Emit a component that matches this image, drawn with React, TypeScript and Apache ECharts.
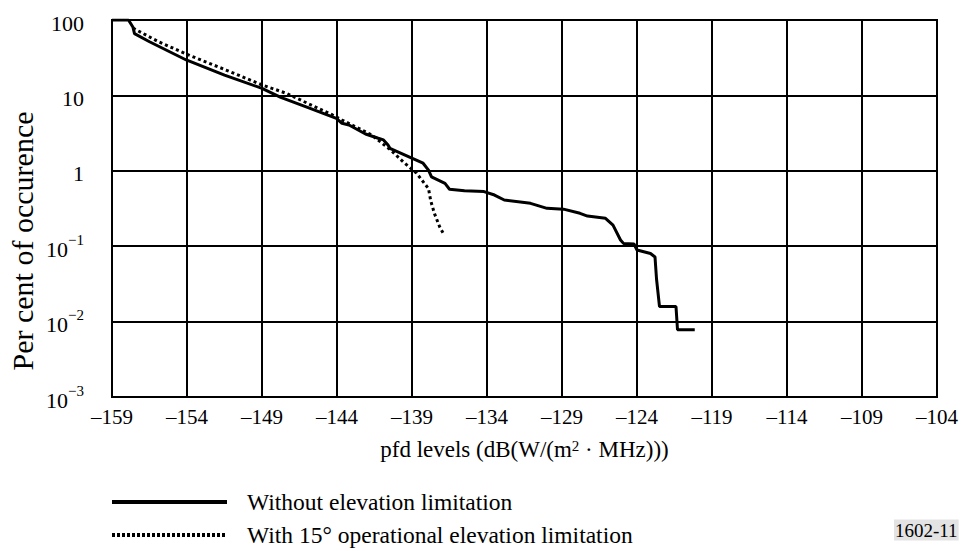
import React, { useEffect, useRef } from "react";
import * as echarts from "echarts";

const FONT = "'Liberation Serif', 'Times New Roman', serif";

const xMin = -159;
const xMax = -104;
const xStep = 5;

const withoutX = [-159, -157.9, -157.6, -157.5, -156.5, -154.05, -151.5, -149.0, -147.75, -146.1, -144.04, -143.67, -143.2, -142.1, -141.25, -140.9, -140.6, -140.47, -139.05, -138.26, -137.9, -137.7, -136.8, -136.5, -135.5, -134.2, -133.5, -132.85, -131.1, -130.0, -128.9, -127.8, -127.3, -126.1, -125.6, -125.1, -124.9, -124.2, -124.0, -123.1, -122.8, -122.7, -122.5, -121.4, -121.3, -120.15];
const withoutY = [100, 100, 80, 66, 51.5, 29.5, 18.6, 12.4, 9.4, 7.1, 4.97, 4.27, 4.05, 3.08, 2.7, 2.57, 2.2, 1.99, 1.48, 1.26, 1.02, 0.83, 0.68, 0.57, 0.545, 0.53, 0.477, 0.41, 0.37, 0.318, 0.31, 0.273, 0.251, 0.234, 0.19, 0.121, 0.109, 0.107, 0.089, 0.08, 0.072, 0.037, 0.0158, 0.0158, 0.0078, 0.0078];

const withX = [-157.6, -155.9, -153.9, -151.4, -148.97, -147.4, -144.3, -143.67, -141.7, -140.4, -139.6, -138.7, -137.9, -137.75, -137.5, -137.15, -136.85];
const withY = [78, 51.5, 34.4, 21.7, 13.7, 10.7, 5.5, 4.72, 3.0, 1.87, 1.32, 0.93, 0.58, 0.4, 0.27, 0.18, 0.14];

const seriesNames = ["Without elevation limitation", "With 15° operational elevation limitation"];
const yTitle = "Per cent of occurence";
const figId = "1602-11";

export default function App() {
  const ref = useRef<HTMLDivElement>(null);
  useEffect(() => {
    document.body.style.margin = "0";
    const chart = echarts.init(ref.current!, null, { renderer: "svg" });
    const pairs = (xs: number[], ys: number[]) => xs.map((x, i) => [x, ys[i]]);
    chart.setOption({
      animation: false,
      backgroundColor: "#ffffff",
      textStyle: { fontFamily: FONT, color: "#000" },
      grid: { left: 112, right: 19, top: 20, bottom: 154, show: true, borderColor: "#000", borderWidth: 2 },
      xAxis: {
        type: "value",
        min: xMin,
        max: xMax,
        interval: xStep,
        name: "pfd levels (dB(W/(m{sup|2} · MHz)))",
        nameLocation: "middle",
        nameGap: 41,
        nameTextStyle: {
          fontFamily: FONT, fontSize: 23, color: "#000",
          rich: {
            sup: { fontFamily: FONT, fontSize: 15, verticalAlign: "top", lineHeight: 14, color: "#000" },
          },
        },
        axisLine: { show: true, lineStyle: { color: "#000", width: 2 } },
        axisTick: { show: false },
        splitLine: { show: true, lineStyle: { color: "#000", width: 2 } },
        axisLabel: {
          fontFamily: FONT, fontSize: 21, color: "#000", margin: 9,
          formatter: (v: number) => String(v).replace("-", "–"),
        },
      },
      yAxis: {
        type: "log",
        logBase: 10,
        min: 0.001,
        max: 100,
        axisLine: { show: true, lineStyle: { color: "#000", width: 2 } },
        axisTick: { show: false },
        minorTick: { show: false },
        splitLine: { show: true, lineStyle: { color: "#000", width: 2 } },
        axisLabel: {
          margin: 28,
          fontFamily: FONT,
          color: "#000",
          formatter: (v: number) => {
            if (v >= 1) return "{b|" + String(Math.round(v)) + "}";
            const e = Math.round(Math.log10(v));
            return "{b|10}{s|−" + String(-e) + "}";
          },
          rich: {
            b: { fontFamily: FONT, fontSize: 22, color: "#000", verticalAlign: "bottom", lineHeight: 28 },
            s: { fontFamily: FONT, fontSize: 15, color: "#000", verticalAlign: "top", lineHeight: 14 },
          },
        },
      },
      series: [
        {
          name: seriesNames[0],
          type: "line",
          data: pairs(withoutX, withoutY),
          showSymbol: false,
          symbol: "none",
          lineStyle: { color: "#000", width: 3 },
          z: 5,
        },
        {
          name: seriesNames[1],
          type: "line",
          data: pairs(withX, withY),
          showSymbol: false,
          symbol: "none",
          lineStyle: { color: "#000", width: 3, type: [3, 3] },
          z: 4,
        },
      ],
      graphic: [
        {
          type: "text", x: 22, y: 241, rotation: Math.PI / 2,
          style: { text: yTitle, font: "30px " + FONT, fill: "#000", align: "center", verticalAlign: "middle" },
        },
        { type: "line", shape: { x1: 112, y1: 502, x2: 227, y2: 502 }, style: { stroke: "#000", lineWidth: 4 } },
        { type: "text", x: 247, y: 502, style: { text: seriesNames[0], font: "23.5px " + FONT, fill: "#000", verticalAlign: "middle" } },
        { type: "line", shape: { x1: 112, y1: 535, x2: 227, y2: 535 }, style: { stroke: "#000", lineWidth: 4, lineDash: [3, 2] } },
        { type: "text", x: 247, y: 535, style: { text: seriesNames[1], font: "23.5px " + FONT, fill: "#000", verticalAlign: "middle" } },
        {
          type: "text", x: 894, y: 530,
          style: { text: figId, font: "19px " + FONT, fill: "#000", verticalAlign: "middle", backgroundColor: "#e3e3e3", padding: [1, 1, 1, 1] },
        },
      ],
    });
    return () => chart.dispose();
  }, []);
  return <div ref={ref} style={{ position: "absolute", left: 0, top: 0, width: 961, height: 551 }} />;
}
